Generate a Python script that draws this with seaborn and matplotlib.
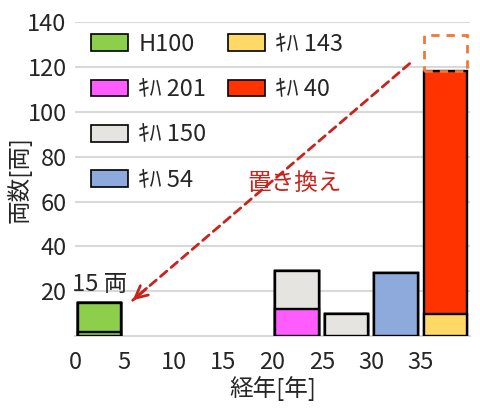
import numpy as np
import pandas as pd
import matplotlib
matplotlib.use("Agg")
import matplotlib.pyplot as plt
import seaborn as sns
from matplotlib.patches import Patch, Rectangle

# ---- data ----
bins = ["0-5", "5-10", "10-15", "15-20", "20-25", "25-30", "30-35", "35-40"]
xtick_labels = ["0", "5", "10", "15", "20", "25", "30", "35"]
ytick_values = [20, 40, 60, 80, 100, 120, 140]

h100_lower = [2, 0, 0, 0, 0, 0, 0, 0]
h100_upper = [13, 0, 0, 0, 0, 0, 0, 0]
kiha201 = [0, 0, 0, 0, 12, 0, 0, 0]
kiha150 = [0, 0, 0, 0, 17, 10, 0, 0]
kiha54 = [0, 0, 0, 0, 0, 0, 28, 0]
kiha143 = [0, 0, 0, 0, 0, 0, 0, 10]
kiha40 = [0, 0, 0, 0, 0, 0, 0, 108]
kiha40_replaced_top = 134

total_label = "15 両"
replace_label = "置き換え"
x_label = "経年[年]"
y_label = "両数[両]"

c_h100 = "#8DCF4A"
c_201 = "#FF5CFF"
c_150 = "#E6E4E0"
c_54 = "#8EA9DB"
c_143 = "#FFD966"
c_40 = "#FF3300"

# bottom -> top stacking order
layers = [
    (h100_lower, c_h100),
    (h100_upper, c_h100),
    (kiha201, c_201),
    (kiha150, c_150),
    (kiha54, c_54),
    (kiha143, c_143),
    (kiha40, c_40),
]

sns.set_theme(style="white")
plt.rcParams["font.family"] = ["Noto Sans CJK JP", "DejaVu Sans"]
FS = 17

fig = plt.figure(figsize=(4.8, 4.08), dpi=100)
ax = fig.add_axes([0.156, 0.176, 0.823, 0.770])

cum = np.cumsum(np.array([l[0] for l in layers]), axis=0)
bar_w = 0.88
for k in range(len(layers) - 1, -1, -1):
    df = pd.DataFrame({"bin": bins, "total": cum[k]})
    df = df[df["total"] > 0]
    sns.barplot(data=df, x="bin", y="total", order=bins, color=layers[k][1],
                saturation=1, edgecolor="black", linewidth=1.7, width=bar_w,
                errorbar=None, ax=ax, zorder=3)

ax.set_xlim(-0.5, len(bins) - 0.5)
ax.set_ylim(0, 140)
ax.set_xticks(np.arange(len(bins)) - 0.5)
ax.set_xticklabels(xtick_labels, fontsize=FS)
ax.set_yticks(ytick_values)
ax.set_yticklabels([str(v) for v in ytick_values], fontsize=FS)
ax.yaxis.grid(True, color="#D9D9D9", linewidth=1.5)
ax.set_axisbelow(True)
for s in ["top", "right", "left"]:
    ax.spines[s].set_visible(False)
ax.spines["bottom"].set_color("#D9D9D9")
ax.spines["bottom"].set_linewidth(1.5)
ax.tick_params(axis="x", direction="in", length=6, width=1.5, color="#C8C8A8", pad=11)
ax.tick_params(axis="y", length=0, pad=6)
ax.set_xlabel(x_label, fontsize=FS, labelpad=1)
ax.set_ylabel(y_label, fontsize=FS)
ax.yaxis.set_label_coords(-0.11, 0.5)

# total label over first bar
ax.text(0, cum[-1][0] + 3, total_label, ha="center", va="bottom", fontsize=FS, zorder=5)

# dashed replacement box over last bar
last = len(bins) - 1
ax.add_patch(Rectangle((last - bar_w / 2, cum[-1][last]), bar_w,
                       kiha40_replaced_top - cum[-1][last], fill=False,
                       edgecolor="#F07838", linewidth=2, linestyle=(0, (3, 2.5)),
                       zorder=4, clip_on=False))

# dashed arrow
red = "#C8241E"
start = (last - bar_w / 2 - 0.28, 121.5)
end = (bar_w / 2 + 0.23, 16)
ax.annotate("", xy=end, xytext=start,
            arrowprops=dict(arrowstyle="-", color=red, lw=2, linestyle=(0, (3, 2)),
                            shrinkA=0, shrinkB=0), zorder=5)
dx, dy = start[0] - end[0], start[1] - end[1]
ax.annotate("", xy=end, xytext=(end[0] + dx * 0.05, end[1] + dy * 0.05),
            arrowprops=dict(arrowstyle="->", color=red, lw=2, mutation_scale=22,
                            shrinkA=0, shrinkB=0), zorder=5)
ax.text(3.95, 68, replace_label, color=red, fontsize=FS, ha="center", va="center", zorder=5)

# legends
hl = lambda c: Patch(facecolor=c, edgecolor="black", linewidth=1.2)
leg_kw = dict(loc="upper left", frameon=False, fontsize=FS, handlelength=1.55,
              handleheight=0.7, handletextpad=0.45, labelspacing=0.95,
              borderpad=0, borderaxespad=0)
leg1 = fig.legend([hl(c_h100), hl(c_201), hl(c_150), hl(c_54)],
                  ["H100", "ｷﾊ 201", "ｷﾊ 150", "ｷﾊ 54"],
                  bbox_to_anchor=(0.19, 0.92), **leg_kw)
leg2 = fig.legend([hl(c_143), hl(c_40)], ["ｷﾊ 143", "ｷﾊ 40"],
                  bbox_to_anchor=(0.475, 0.92), **leg_kw)

fig.savefig("out.png", dpi=100)
